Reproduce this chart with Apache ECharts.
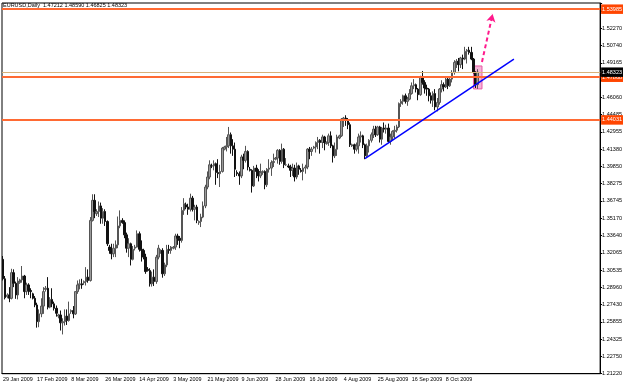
<!DOCTYPE html>
<html>
<head>
    <title>EURUSD Daily</title>
    <script src="https://cdn.jsdelivr.net/npm/echarts@6/dist/echarts.min.js"></script>
    <style>
        html, body { margin: 0; padding: 0; background: #fff; }
        #chart { width: 625px; height: 384px; }
    </style>
</head>
<body>
    <div id="chart"></div>

    <script>
        // daily bars, 29 Jan 2009 .. 29 Oct 2009
        const openPrices = [
            1.3150, 1.2975, 1.2815, 1.2830, 1.2800, 1.3030, 1.2935, 1.2830,
            1.2940, 1.2965, 1.3000, 1.2860, 1.2920, 1.2870, 1.2840, 1.2800,
            1.2740, 1.2590, 1.2660, 1.2730, 1.2880, 1.2890, 1.2720, 1.2790,
            1.2750, 1.2710, 1.2640, 1.2650, 1.2580, 1.2590, 1.2640, 1.2600,
            1.2680, 1.2690, 1.2660, 1.2860, 1.2920, 1.2930, 1.2940, 1.2950,
            1.2990, 1.2960, 1.3500, 1.3680, 1.3560, 1.3580, 1.3630, 1.3520,
            1.3580, 1.3490, 1.3260, 1.3230, 1.3200, 1.3250, 1.3280, 1.3450,
            1.3500, 1.3480, 1.3370, 1.3250, 1.3290, 1.3150, 1.3250, 1.3260,
            1.3380, 1.3240, 1.3230, 1.3170, 1.3060, 1.3050, 1.2930, 1.2990,
            1.2950, 1.3170, 1.3220, 1.3230, 1.3020, 1.3100, 1.3240, 1.3230,
            1.3250, 1.3260, 1.3360, 1.3340, 1.3320, 1.3590, 1.3640, 1.3620,
            1.3600, 1.3700, 1.3600, 1.3620, 1.3480, 1.3490, 1.3530, 1.3630,
            1.3800, 1.3890, 1.3990, 1.3990, 1.4010, 1.3930, 1.3920, 1.3940,
            1.4140, 1.4160, 1.4170, 1.4270, 1.4170, 1.4140, 1.3930, 1.3920,
            1.3900, 1.4070, 1.4040, 1.4120, 1.3960, 1.3950, 1.3810, 1.3970,
            1.3940, 1.3900, 1.3930, 1.3940, 1.3820, 1.3960, 1.3970, 1.4020,
            1.4050, 1.4060, 1.4130, 1.4030, 1.4140, 1.4000, 1.3990, 1.3980,
            1.3950, 1.3970, 1.3890, 1.3990, 1.3950, 1.3940, 1.3970, 1.3980,
            1.4140, 1.4120, 1.4150, 1.4160, 1.4200, 1.4220, 1.4200, 1.4250,
            1.4190, 1.4200, 1.4260, 1.4170, 1.4080, 1.4140, 1.4240, 1.4260,
            1.4410, 1.4420, 1.4400, 1.4360, 1.4170, 1.4180, 1.4140, 1.4170,
            1.4250, 1.4260, 1.4180, 1.4080, 1.4170, 1.4220, 1.4270, 1.4320,
            1.4270, 1.4340, 1.4230, 1.4330, 1.4320, 1.4330, 1.4210, 1.4250,
            1.4300, 1.4310, 1.4340, 1.4550, 1.4570, 1.4620, 1.4570, 1.4590,
            1.4640, 1.4710, 1.4720, 1.4680, 1.4630, 1.4790, 1.4740, 1.4690,
            1.4680, 1.4620, 1.4580, 1.4640, 1.4520, 1.4560, 1.4680, 1.4720,
            1.4700, 1.4770, 1.4710, 1.4770, 1.4830, 1.4920, 1.4930, 1.4900,
            1.4960, 1.4950, 1.5020, 1.5030, 1.5010, 1.4950, 1.4830, 1.47212
        ];
        const highPrices = [
            1.3180, 1.3000, 1.2845, 1.2900, 1.3065, 1.3060, 1.2950, 1.2990,
            1.2975, 1.3090, 1.3010, 1.2940, 1.2935, 1.2890, 1.2850, 1.2820,
            1.2760, 1.2700, 1.2800, 1.2900, 1.2910, 1.2990, 1.2810, 1.2890,
            1.2770, 1.2735, 1.2660, 1.2690, 1.2620, 1.2700, 1.2700, 1.2770,
            1.2700, 1.2730, 1.2860, 1.2960, 1.2970, 1.2975, 1.2960, 1.3080,
            1.3060, 1.3530, 1.3735, 1.3735, 1.3600, 1.3670, 1.3660, 1.3610,
            1.3600, 1.3500, 1.3280, 1.3290, 1.3290, 1.3320, 1.3535, 1.3590,
            1.3520, 1.3500, 1.3390, 1.3340, 1.3300, 1.3270, 1.3280, 1.3410,
            1.3400, 1.3320, 1.3245, 1.3200, 1.3080, 1.3070, 1.3040, 1.3060,
            1.3190, 1.3280, 1.3240, 1.3250, 1.3120, 1.3280, 1.3280, 1.3270,
            1.3270, 1.3380, 1.3380, 1.3360, 1.3620, 1.3700, 1.3660, 1.3650,
            1.3740, 1.3720, 1.3640, 1.3640, 1.3500, 1.3560, 1.3670, 1.3820,
            1.3940, 1.4040, 1.4010, 1.4040, 1.4020, 1.4050, 1.4000, 1.4160,
            1.4170, 1.4250, 1.4340, 1.4290, 1.4230, 1.4200, 1.3950, 1.3940,
            1.4090, 1.4100, 1.4170, 1.4130, 1.3980, 1.3960, 1.3990, 1.4000,
            1.3960, 1.4010, 1.3950, 1.3950, 1.3970, 1.4050, 1.4040, 1.4100,
            1.4070, 1.4140, 1.4140, 1.4190, 1.4150, 1.4060, 1.4010, 1.4000,
            1.4010, 1.4000, 1.4020, 1.4000, 1.3970, 1.4010, 1.4000, 1.4150,
            1.4160, 1.4160, 1.4170, 1.4210, 1.4250, 1.4230, 1.4270, 1.4260,
            1.4210, 1.4280, 1.4300, 1.4180, 1.4200, 1.4270, 1.4270, 1.4420,
            1.4430, 1.4445, 1.4420, 1.4380, 1.4190, 1.4190, 1.4200, 1.4280,
            1.4300, 1.4270, 1.4190, 1.4190, 1.4230, 1.4290, 1.4350, 1.4350,
            1.4350, 1.4350, 1.4340, 1.4380, 1.4360, 1.4370, 1.4280, 1.4310,
            1.4350, 1.4360, 1.4560, 1.4590, 1.4630, 1.4640, 1.4610, 1.4680,
            1.4740, 1.4770, 1.4730, 1.4690, 1.4800, 1.4843, 1.4760, 1.4720,
            1.4690, 1.4650, 1.4660, 1.4680, 1.4600, 1.4690, 1.4760, 1.4740,
            1.4790, 1.4790, 1.4780, 1.4850, 1.4940, 1.4950, 1.4960, 1.4970,
            1.4990, 1.5060, 1.5040, 1.5060, 1.5060, 1.4960, 1.4840, 1.48590
        ];
        const lowPrices = [
            1.2960, 1.2790, 1.2800, 1.2765, 1.2790, 1.2900, 1.2795, 1.2790,
            1.2930, 1.2940, 1.2800, 1.2830, 1.2830, 1.2800, 1.2790, 1.2720,
            1.2536, 1.2540, 1.2630, 1.2660, 1.2860, 1.2700, 1.2710, 1.2720,
            1.2690, 1.2635, 1.2620, 1.2510, 1.2475, 1.2555, 1.2560, 1.2590,
            1.2660, 1.2620, 1.2650, 1.2840, 1.2880, 1.2885, 1.2920, 1.2915,
            1.2940, 1.2950, 1.3490, 1.3520, 1.3540, 1.3530, 1.3470, 1.3470,
            1.3450, 1.3270, 1.3200, 1.3150, 1.3170, 1.3170, 1.3250, 1.3430,
            1.3470, 1.3340, 1.3210, 1.3170, 1.3095, 1.3140, 1.3230, 1.3255,
            1.3220, 1.3130, 1.3150, 1.3020, 1.3040, 1.2905, 1.2905, 1.2910,
            1.2930, 1.3150, 1.3200, 1.2985, 1.3000, 1.3080, 1.3200, 1.3200,
            1.3240, 1.3235, 1.3280, 1.3250, 1.3300, 1.3550, 1.3600, 1.3550,
            1.3580, 1.3580, 1.3500, 1.3475, 1.3460, 1.3440, 1.3520, 1.3610,
            1.3780, 1.3870, 1.3970, 1.3950, 1.3820, 1.3880, 1.3800, 1.3930,
            1.4130, 1.4120, 1.4150, 1.4100, 1.4080, 1.3890, 1.3900, 1.3820,
            1.3880, 1.3960, 1.4020, 1.3950, 1.3940, 1.3750, 1.3800, 1.3880,
            1.3850, 1.3880, 1.3910, 1.3780, 1.3800, 1.3930, 1.3900, 1.3980,
            1.4040, 1.4010, 1.4000, 1.4010, 1.3970, 1.3990, 1.3970, 1.3890,
            1.3900, 1.3850, 1.3870, 1.3910, 1.3930, 1.3860, 1.3920, 1.3960,
            1.4050, 1.4080, 1.4140, 1.4110, 1.4140, 1.4100, 1.4150, 1.4130,
            1.4180, 1.4170, 1.4150, 1.4020, 1.4060, 1.4080, 1.4230, 1.4250,
            1.4340, 1.4350, 1.4320, 1.4160, 1.4160, 1.4100, 1.4120, 1.4100,
            1.4200, 1.4150, 1.4050, 1.4070, 1.4110, 1.4200, 1.4240, 1.4250,
            1.4260, 1.4200, 1.4180, 1.4290, 1.4280, 1.4200, 1.4180, 1.4220,
            1.4240, 1.4290, 1.4330, 1.4520, 1.4540, 1.4550, 1.4530, 1.4580,
            1.4630, 1.4680, 1.4650, 1.4580, 1.4620, 1.4720, 1.4640, 1.4620,
            1.4570, 1.4550, 1.4520, 1.4490, 1.4480, 1.4540, 1.4650, 1.4660,
            1.4690, 1.4680, 1.4700, 1.4740, 1.4810, 1.4870, 1.4840, 1.4870,
            1.4860, 1.4940, 1.4910, 1.4990, 1.4940, 1.4820, 1.4690, 1.46825
        ];
        const closePrices = [
            1.2975, 1.2805, 1.2830, 1.2800, 1.3030, 1.2935, 1.2830, 1.2955,
            1.2965, 1.3000, 1.2860, 1.2920, 1.2870, 1.2860, 1.2800, 1.2740,
            1.2590, 1.2660, 1.2730, 1.2860, 1.2890, 1.2720, 1.2790, 1.2750,
            1.2710, 1.2665, 1.2650, 1.2580, 1.2590, 1.2640, 1.2600, 1.2660,
            1.2690, 1.2660, 1.2860, 1.2920, 1.2930, 1.2920, 1.2950, 1.2990,
            1.2960, 1.3500, 1.3680, 1.3580, 1.3580, 1.3630, 1.3520, 1.3580,
            1.3490, 1.3290, 1.3230, 1.3200, 1.3250, 1.3280, 1.3450, 1.3500,
            1.3480, 1.3370, 1.3250, 1.3290, 1.3150, 1.3240, 1.3260, 1.3380,
            1.3240, 1.3230, 1.3170, 1.3040, 1.3050, 1.2930, 1.2990, 1.2950,
            1.3170, 1.3250, 1.3230, 1.3020, 1.3100, 1.3240, 1.3230, 1.3260,
            1.3260, 1.3360, 1.3340, 1.3320, 1.3590, 1.3650, 1.3620, 1.3600,
            1.3700, 1.3600, 1.3620, 1.3500, 1.3490, 1.3530, 1.3630, 1.3800,
            1.3890, 1.4000, 1.3990, 1.4010, 1.3930, 1.3920, 1.3940, 1.4150,
            1.4160, 1.4170, 1.4270, 1.4170, 1.4140, 1.3960, 1.3920, 1.3900,
            1.4070, 1.4040, 1.4120, 1.3980, 1.3950, 1.3810, 1.3970, 1.3940,
            1.3900, 1.3930, 1.3940, 1.3820, 1.3960, 1.3970, 1.4020, 1.4030,
            1.4060, 1.4130, 1.4030, 1.4140, 1.4000, 1.4000, 1.3980, 1.3950,
            1.3970, 1.3890, 1.3990, 1.3960, 1.3940, 1.3970, 1.3980, 1.4140,
            1.4120, 1.4140, 1.4160, 1.4200, 1.4220, 1.4200, 1.4250, 1.4200,
            1.4200, 1.4260, 1.4170, 1.4080, 1.4140, 1.4250, 1.4260, 1.4410,
            1.4420, 1.4400, 1.4360, 1.4180, 1.4180, 1.4140, 1.4170, 1.4250,
            1.4260, 1.4180, 1.4080, 1.4170, 1.4220, 1.4270, 1.4320, 1.4270,
            1.4340, 1.4230, 1.4330, 1.4320, 1.4330, 1.4210, 1.4250, 1.4300,
            1.4310, 1.4340, 1.4550, 1.4570, 1.4620, 1.4570, 1.4590, 1.4640,
            1.4710, 1.4720, 1.4680, 1.4630, 1.4790, 1.4740, 1.4690, 1.4680,
            1.4620, 1.4580, 1.4640, 1.4520, 1.4560, 1.4680, 1.4720, 1.4700,
            1.4770, 1.4710, 1.4770, 1.4830, 1.4920, 1.4930, 1.4900, 1.4960,
            1.4950, 1.5020, 1.5030, 1.5010, 1.4950, 1.4830, 1.4720, 1.48323
        ];

        // x labels every 16 bars
        const xTickLabels = ['29 Jan 2009', '17 Feb 2009', '8 Mar 2009', '26 Mar 2009', '14 Apr 2009',
            '3 May 2009', '21 May 2009', '9 Jun 2009', '28 Jun 2009', '16 Jul 2009', '4 Aug 2009',
            '25 Aug 2009', '16 Sep 2009', '8 Oct 2009'];
        const barSlots = 281; // includes the empty space on the right

        // price scale ticks (one hidden behind the orange level label)
        const yTickLabels = ['1.21220', '1.22750', '1.24325', '1.25855', '1.27430', '1.28960', '1.30535',
            '1.32065', '1.33640', '1.35170', '1.36745', '1.38275', '1.39850', '1.41380', '1.42955',
            '1.44485', '1.46060', '', '1.49165', '1.50740', '1.52270'];
        const yMin = 1.2122;
        const yMax = 1.5454;
        const yStep = 0.015525;

        // horizontal levels
        const levelValues = [1.53985, 1.47868, 1.44031];
        const levelLabels = ['1.53985', '1.47868', '1.44031'];
        const bidValue = 1.48323;
        const bidLabel = '1.48323';

        // drawn objects
        const trendLine = [[170, 1.4055], [240, 1.4950]];
        const arrowLine = [[225, 1.4924], [230, 1.5355]];
        const boxArea = [[221, 1.4888], [225, 1.4682]];

        const titleText = 'EURUSD,Daily  1.47212 1.48590 1.46825 1.48323';

        const categories = [];
        for (let i = 0; i < barSlots; i++) categories.push(i);

        const candles = openPrices.map((o, i) => [o, closePrices[i], lowPrices[i], highPrices[i]]);

        const fontFamily = 'Liberation Sans, Arial, sans-serif';
        const orange = '#ff6a33';
        const showTick = idx => idx % 16 === 0 && idx / 16 < xTickLabels.length;

        const levelLines = levelValues.map((v, i) => ({
            yAxis: v,
            lineStyle: { color: orange, width: 2, type: 'solid' },
            label: {
                formatter: levelLabels[i],
                backgroundColor: '#ff4500',
                color: '#fff'
            }
        }));
        // bid line last, its label sits on top
        levelLines.push({
            yAxis: bidValue,
            lineStyle: { color: '#d8b27a', width: 1, type: 'solid' },
            label: {
                formatter: bidLabel,
                backgroundColor: '#000',
                color: '#fff'
            }
        });

        const chart = echarts.init(document.getElementById('chart'));

        chart.setOption({
            animation: false,
            backgroundColor: '#fff',
            title: {
                text: titleText,
                left: 3,
                top: 1,
                padding: 0,
                textStyle: { fontSize: 5.5, fontWeight: 'normal', color: '#000', fontFamily: fontFamily }
            },
            grid: {
                left: 2,
                right: 21,
                top: 3,
                bottom: 10,
                show: true,
                borderColor: '#000',
                borderWidth: 1
            },
            xAxis: {
                type: 'category',
                data: categories,
                boundaryGap: true,
                axisLine: { lineStyle: { color: '#000', width: 1 } },
                axisTick: {
                    interval: showTick,
                    alignWithLabel: true,
                    length: 3,
                    lineStyle: { color: '#000' }
                },
                axisLabel: {
                    interval: showTick,
                    align: 'left',
                    margin: 1,
                    fontSize: 5.4,
                    color: '#000',
                    fontFamily: fontFamily,
                    formatter: (v, idx) => xTickLabels[idx / 16] || ''
                },
                splitLine: { show: false }
            },
            yAxis: {
                type: 'value',
                position: 'right',
                min: yMin,
                max: yMax,
                interval: yStep,
                scale: true,
                axisLine: { show: true, lineStyle: { color: '#000', width: 1 } },
                axisTick: { show: true, length: 2, lineStyle: { color: '#000' } },
                axisLabel: {
                    fontSize: 5.5,
                    margin: 2,
                    color: '#000',
                    fontFamily: fontFamily,
                    formatter: v => {
                        const k = Math.round((v - yMin) / yStep);
                        return yTickLabels[k] || '';
                    }
                },
                splitLine: { show: false }
            },
            series: [
                {
                    type: 'candlestick',
                    data: candles,
                    barWidth: 2,
                    itemStyle: {
                        color: '#9a9a9a',
                        borderColor: '#555',
                        color0: '#111',
                        borderColor0: '#111',
                        borderWidth: 1
                    },
                    markArea: {
                        silent: true,
                        itemStyle: {
                            color: 'rgba(238, 130, 190, 0.6)',
                            borderColor: '#e65aa5',
                            borderWidth: 1
                        },
                        data: [[
                            { coord: boxArea[0] },
                            { coord: boxArea[1] }
                        ]]
                    },
                    markLine: {
                        silent: true,
                        symbol: 'none',
                        precision: 5,
                        label: {
                            position: 'end',
                            distance: 1,
                            fontSize: 5.5,
                            fontFamily: fontFamily,
                            padding: [0, 1, 0, 1]
                        },
                        data: levelLines
                    }
                },
                {
                    type: 'line',
                    data: trendLine,
                    symbol: 'none',
                    silent: true,
                    lineStyle: { color: '#0000ff', width: 1.5 },
                    z: 5,
                    markLine: {
                        silent: true,
                        symbol: ['none', 'arrow'],
                        symbolSize: [7, 8],
                        label: { show: false },
                        lineStyle: { color: '#ff1a8c', width: 2, type: [4, 3] },
                        data: [[
                            { coord: arrowLine[0] },
                            { coord: arrowLine[1] }
                        ]]
                    }
                }
            ]
        });
    </script>
</body>
</html>
